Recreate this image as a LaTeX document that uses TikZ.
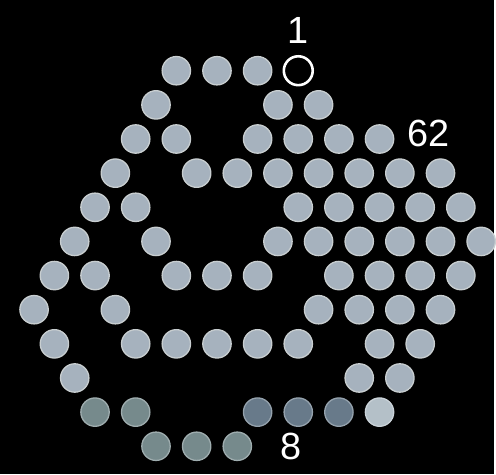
\documentclass[tikz,border=0pt]{standalone}
\usepackage{fontspec}
\setmainfont{Liberation Sans}
\usetikzlibrary{positioning}

\definecolor{cellfill}{RGB}{166,178,190}
\definecolor{cellrim}{RGB}{200,206,208}
\definecolor{tealfill}{RGB}{118,138,140}
\definecolor{bluefill}{RGB}{104,122,138}
\definecolor{palefill}{RGB}{180,192,200}

\begin{document}
\begin{tikzpicture}[
            x=1pt, y=-1pt,
            every node/.style={inner sep=0pt, outer sep=0pt},
            cell/.style={circle, minimum size=28.5pt, fill=cellfill, draw=cellrim, line width=1.3pt},
            dimcell/.style={cell, fill=#1, draw=#1!70!white},
            ring/.style={circle, minimum size=29pt, draw=white, line width=2.6pt},
            num/.style={text=white, font=\fontsize{38}{38}\selectfont}
        ]

        \fill[black] (0,0) rectangle (496,476);

        % rows of the lattice: row / columns
        \foreach \r/\ks in {0/{0,1,2}, 1/{0,3,4}, 2/{0,1,3,4,5,6},
                            3/{0,2,3,4,5,6,7,8}, 4/{0,1,5,6,7,8,9},
                            5/{0,2,5,6,7,8,9,10}, 6/{0,1,3,4,5,7,8,9,10},
                            7/{0,2,7,8,9,10}, 8/{1,3,4,5,6,7,9,10},
                            9/{2,9,10}} {
            \foreach \k in \ks
                \node[cell] (c\r-\k) at ({177+40.8*\k-20.4*\r},{71+34.27*\r}) {};
        }

        % darker cells at the bottom
        \foreach \k/\c in {3/tealfill, 4/tealfill, 7/bluefill, 8/bluefill, 9/bluefill, 10/palefill}
            \node[dimcell=\c] (c10-\k) at ({177+40.8*\k-204},{71+342.7}) {};
        \foreach \k in {5,6,7}
            \node[dimcell=tealfill] (c11-\k) at ({177+40.8*\k-224.4},{71+376.97}) {};

        % empty start cell
        \node[ring] (c0-3) at ({177+40.8*3},71) {};

        \node[num] (first) [above=13pt of c0-3] {1};
        \node[num] (mid) [right=14pt of c2-6, yshift=6pt] {62};
        \node[num] (last) [right=29pt of c11-7] {8};
        \end{tikzpicture}
\end{document}
